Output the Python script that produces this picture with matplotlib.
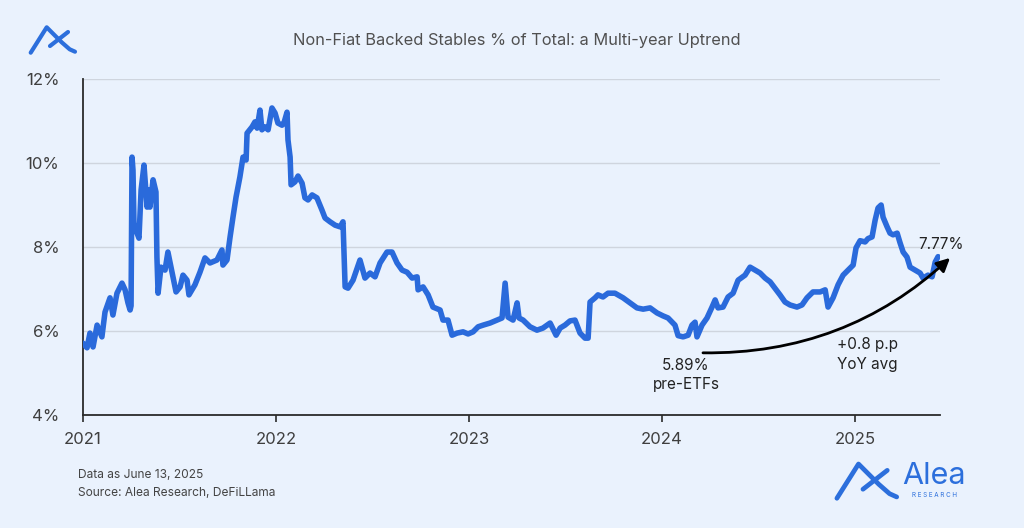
import matplotlib
matplotlib.use("Agg")
import matplotlib.pyplot as plt
from matplotlib.lines import Line2D
import numpy as np

# ---------------- data (decimal year, % of total) ----------------
years = [
    2021.000, 2021.021, 2021.036, 2021.052, 2021.073, 2021.098, 2021.114, 2021.140, 2021.155, 2021.176,
    2021.202, 2021.218, 2021.233, 2021.244, 2021.249, 2021.254, 2021.259, 2021.264, 2021.280, 2021.290,
    2021.301, 2021.316, 2021.332, 2021.337, 2021.347, 2021.363, 2021.378, 2021.383, 2021.389, 2021.404,
    2021.425, 2021.440, 2021.461, 2021.482, 2021.503, 2021.518, 2021.539, 2021.549, 2021.580, 2021.606,
    2021.632, 2021.658, 2021.694, 2021.720, 2021.725, 2021.746, 2021.762, 2021.777, 2021.793, 2021.813,
    2021.829, 2021.845, 2021.850, 2021.876, 2021.891, 2021.902, 2021.917, 2021.927, 2021.943, 2021.959,
    2021.979, 2021.995, 2022.010, 2022.031, 2022.041, 2022.057, 2022.062, 2022.073, 2022.078, 2022.098,
    2022.114, 2022.135, 2022.150, 2022.166, 2022.187, 2022.212, 2022.238, 2022.254, 2022.280, 2022.306,
    2022.332, 2022.347, 2022.358, 2022.373, 2022.399, 2022.435, 2022.461, 2022.487, 2022.513, 2022.539,
    2022.575, 2022.601, 2022.627, 2022.653, 2022.679, 2022.705, 2022.731, 2022.736, 2022.762, 2022.788,
    2022.813, 2022.850, 2022.865, 2022.891, 2022.912, 2022.938, 2022.969, 2022.995, 2023.021, 2023.047,
    2023.073, 2023.109, 2023.145, 2023.171, 2023.187, 2023.202, 2023.228, 2023.249, 2023.259, 2023.280,
    2023.316, 2023.352, 2023.383, 2023.420, 2023.451, 2023.472, 2023.497, 2023.523, 2023.549, 2023.575,
    2023.601, 2023.617, 2023.627, 2023.653, 2023.668, 2023.694, 2023.720, 2023.756, 2023.798, 2023.834,
    2023.870, 2023.902, 2023.938, 2023.974, 2024.005, 2024.031, 2024.067, 2024.083, 2024.109, 2024.135,
    2024.155, 2024.171, 2024.181, 2024.207, 2024.233, 2024.259, 2024.275, 2024.290, 2024.316, 2024.342,
    2024.368, 2024.394, 2024.430, 2024.456, 2024.482, 2024.508, 2024.534, 2024.560, 2024.585, 2024.611,
    2024.637, 2024.663, 2024.699, 2024.725, 2024.751, 2024.782, 2024.819, 2024.845, 2024.860, 2024.886,
    2024.912, 2024.938, 2024.964, 2024.990, 2025.005, 2025.026, 2025.052, 2025.067, 2025.088, 2025.104,
    2025.119, 2025.135, 2025.145, 2025.166, 2025.181, 2025.197, 2025.218, 2025.233, 2025.249, 2025.269,
    2025.285, 2025.311, 2025.337, 2025.352, 2025.378, 2025.399, 2025.415, 2025.430,
]
share_pct = [
    5.71, 5.60, 5.95, 5.62, 6.14, 5.86, 6.45, 6.79, 6.38, 6.90,
    7.14, 6.98, 6.67, 6.50, 6.60, 10.14, 9.83, 8.57, 8.33, 8.21,
    9.36, 9.95, 8.95, 9.36, 8.95, 9.60, 9.31, 7.76, 6.90, 7.52,
    7.45, 7.88, 7.40, 6.93, 7.05, 7.33, 7.21, 6.86, 7.10, 7.40,
    7.74, 7.62, 7.69, 7.93, 7.57, 7.69, 8.24, 8.71, 9.19, 9.67,
    10.14, 10.07, 10.71, 10.86, 10.98, 10.83, 11.26, 10.79, 10.86, 10.79,
    11.31, 11.19, 10.95, 10.90, 10.95, 11.21, 10.55, 10.14, 9.48, 9.55,
    9.69, 9.52, 9.17, 9.12, 9.24, 9.17, 8.88, 8.69, 8.60, 8.52,
    8.48, 8.60, 7.05, 7.02, 7.21, 7.69, 7.26, 7.38, 7.29, 7.62,
    7.88, 7.88, 7.62, 7.45, 7.40, 7.26, 7.29, 6.98, 7.05, 6.86,
    6.57, 6.50, 6.26, 6.26, 5.90, 5.95, 5.98, 5.93, 5.98, 6.10,
    6.14, 6.19, 6.26, 6.31, 7.14, 6.33, 6.26, 6.67, 6.31, 6.26,
    6.10, 6.02, 6.07, 6.19, 5.90, 6.07, 6.14, 6.24, 6.26, 5.95,
    5.83, 5.83, 6.69, 6.79, 6.86, 6.81, 6.90, 6.90, 6.79, 6.67,
    6.55, 6.52, 6.55, 6.43, 6.36, 6.31, 6.14, 5.89, 5.86, 5.90,
    6.14, 6.21, 5.86, 6.14, 6.31, 6.57, 6.74, 6.55, 6.57, 6.81,
    6.90, 7.21, 7.33, 7.52, 7.45, 7.38, 7.26, 7.17, 7.02, 6.86,
    6.69, 6.62, 6.57, 6.62, 6.79, 6.93, 6.93, 6.98, 6.57, 6.79,
    7.10, 7.33, 7.45, 7.57, 7.98, 8.15, 8.12, 8.20, 8.24, 8.64,
    8.93, 9.00, 8.71, 8.48, 8.33, 8.29, 8.33, 8.10, 7.88, 7.76,
    7.52, 7.45, 7.38, 7.26, 7.33, 7.29, 7.64, 7.77,
]
year_ticks = [2021, 2022, 2023, 2024, 2025]
year_labels = ["2021", "2022", "2023", "2024", "2025"]
pct_ticks = [4, 6, 8, 10, 12]
pct_labels = ["4%", "6%", "8%", "10%", "12%"]

title = "Non-Fiat Backed Stables % of Total: a Multi-year Uptrend"
end_label = "7.77%"
low_label = "5.89%\npre-ETFs"
trend_label = "+0.8 p.p\nYoY avg"
arrow_from = (2024.212, 5.48)
arrow_to = (2025.492, 7.74)

# ---------------- style ----------------
BG = "#EAF2FD"
LINE = "#2A6ADB"
TXT = "#3f3f3f"
LOGO = "#2C6FDC"
plt.rcParams["font.family"] = ["Inter", "DejaVu Sans"]

W, H = 1024, 528
fig = plt.figure(figsize=(W / 100, H / 100), dpi=100, facecolor=BG)
ax = fig.add_axes([83 / W, 1 - 415 / H, (940 - 83) / W, (415 - 79) / H])
ax.set_facecolor(BG)

ax.plot(years, share_pct, color=LINE, lw=4.0, solid_joinstyle="round", solid_capstyle="round", zorder=3)

ax.set_xlim(2021, 2025.44)
ax.set_ylim(4, 12)
ax.set_xticks(year_ticks)
ax.set_xticklabels(year_labels)
ax.set_yticks(pct_ticks)
ax.set_yticklabels(pct_labels)
ax.grid(axis="y", color="#cfd5de", lw=1.0, zorder=0)
for s in ["top", "right"]:
    ax.spines[s].set_visible(False)
for s in ["left", "bottom"]:
    ax.spines[s].set_color("#2b2b2b")
    ax.spines[s].set_linewidth(1.3)
ax.tick_params(axis="y", length=0, pad=17, labelsize=12, labelcolor=TXT)
ax.tick_params(axis="x", length=5, width=1.2, color="#2b2b2b", pad=7, labelsize=12, labelcolor=TXT)

fig.text(517 / W, 1 - 40 / H, title, ha="center", va="center", fontsize=11.8, color="#505050")

# annotations
ax.text(2025.446, 8.07, end_label, ha="center", va="center", fontsize=11, color="#222222")
ax.text(2024.124, 4.95, low_label, ha="center", va="center", fontsize=11, color="#222222", linespacing=1.35)
ax.text(2025.062, 5.44, trend_label, ha="center", va="center", fontsize=11, color="#222222", linespacing=1.35)
ax.annotate("", xy=arrow_to, xytext=arrow_from, annotation_clip=False,
            arrowprops=dict(arrowstyle="-|>,head_length=0.8,head_width=0.4", color="black", lw=2.0,
                            connectionstyle="arc3,rad=0.2", shrinkA=0, shrinkB=0))

# footnotes
fig.text(78 / W, 1 - 475 / H, "Data as June 13, 2025", ha="left", va="center", fontsize=8.6, color="#444444")
fig.text(78 / W, 1 - 493 / H, "Source: Alea Research, DeFiLLama", ha="left", va="center", fontsize=8.6, color="#444444")

# logos
def px(pts):
    return [p[0] / W for p in pts], [1 - p[1] / H for p in pts]

def logo(ox, oy, s, lw):
    legs = [(-16, 25.4), (0, 0), (15, 15), (23, 22), (28.3, 24.4)]
    cross = [(3.3, 18.7), (21.3, 4.7)]
    for seg in (legs, cross):
        xs, ys = px([(ox + a * s, oy + b * s) for a, b in seg])
        fig.add_artist(Line2D(xs, ys, color=LOGO, lw=lw, solid_capstyle="round", solid_joinstyle="round"))

logo(46.7, 27.3, 1.0, 3.0)
logo(858.5, 464, 1.35, 3.4)
fig.text(902 / W, 1 - 476 / H, "Alea", ha="left", va="center", fontsize=22, color=LOGO)
fig.text(935 / W, 1 - 495 / H, "R E S E A R C H", ha="center", va="center", fontsize=4.5, color=LOGO)

fig.savefig("out.png", dpi=100, facecolor=BG)
